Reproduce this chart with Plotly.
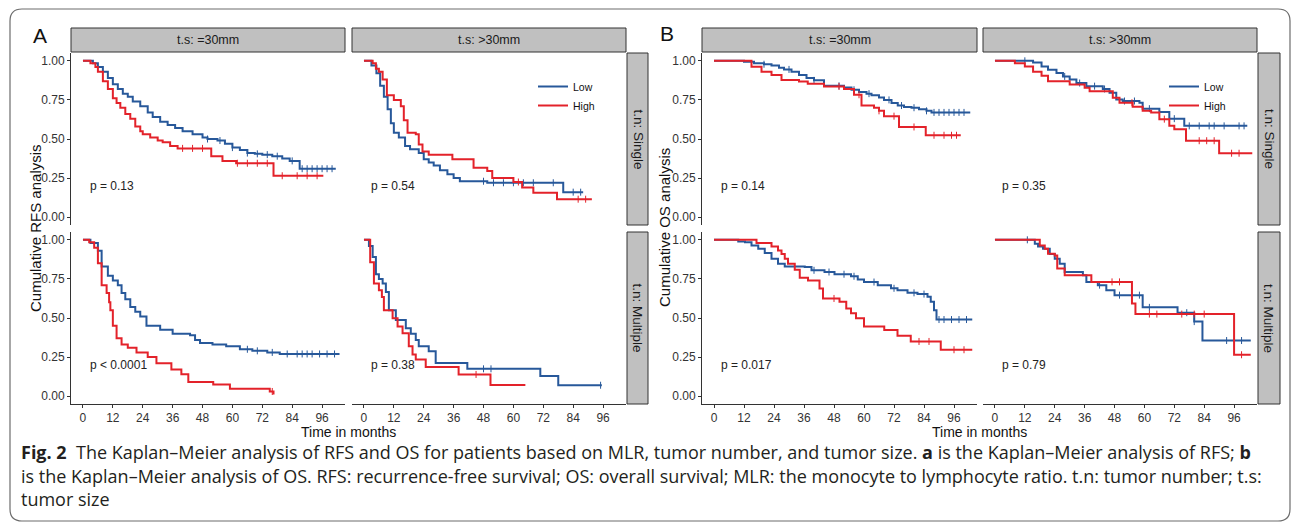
import plotly.graph_objects as go

W, H = 1295, 527

# ---------------- data (months, survival probability) ----------------
months_ticks = [0, 12, 24, 36, 48, 60, 72, 84, 96]
surv_ticks = [0.0, 0.25, 0.5, 0.75, 1.0]
surv_ticklabels = ["0.00", "0.25", "0.50", "0.75", "1.00"]
groups = ["Low", "High"]
size_strips = ["t.s: =30mm", "t.s: >30mm"]
number_strips = ["t.n: Single", "t.n: Multiple"]

# A: RFS, t.s <=30mm, single
rfs_s30_single_low_t = [0, 4, 6, 8, 10, 12, 14, 16, 18, 20, 23, 26, 28, 31, 34, 37, 40, 44, 48, 50, 54, 57, 60, 63, 66, 69, 72, 76, 80, 83, 87, 101.5]
rfs_s30_single_low_s = [1.0, 0.985, 0.96, 0.93, 0.89, 0.85, 0.82, 0.79, 0.77, 0.74, 0.71, 0.67, 0.64, 0.61, 0.59, 0.57, 0.55, 0.53, 0.51, 0.50, 0.49, 0.47, 0.445, 0.43, 0.41, 0.405, 0.40, 0.39, 0.375, 0.36, 0.31, 0.31]
rfs_s30_single_low_cens = [50, 55, 60, 66, 70, 74, 78, 84, 88, 90, 92, 94, 96, 98, 100]
rfs_s30_single_high_t = [0, 3, 5, 6, 8, 10, 12, 13.5, 15, 17, 19, 21, 23, 24, 27, 30, 32, 35, 38, 51.5, 56, 61.5, 76.5, 96.5]
rfs_s30_single_high_s = [1.0, 0.985, 0.96, 0.93, 0.87, 0.82, 0.76, 0.73, 0.70, 0.66, 0.63, 0.58, 0.55, 0.53, 0.51, 0.49, 0.48, 0.455, 0.44, 0.39, 0.36, 0.345, 0.265, 0.265]
rfs_s30_single_high_cens = [40, 44, 48, 62, 66, 70, 74, 80, 86, 90, 94]

# A: RFS, t.s >30mm, single
rfs_b30_single_low_t = [0, 3, 5, 6.5, 8, 9.5, 10.8, 12, 14, 16.5, 18.5, 22, 24, 26, 28, 30.5, 33.5, 36, 38.5, 49.5, 80, 88]
rfs_b30_single_low_s = [1.0, 0.97, 0.92, 0.84, 0.77, 0.69, 0.60, 0.54, 0.51, 0.455, 0.435, 0.41, 0.37, 0.35, 0.33, 0.30, 0.275, 0.25, 0.23, 0.22, 0.16, 0.16]
rfs_b30_single_low_cens = [48, 52, 56, 60, 64, 68, 76, 84, 87]
rfs_b30_single_high_t = [0, 3.5, 4.8, 6, 7.5, 9.2, 12, 14.8, 16, 17.5, 20.8, 22, 23.5, 26, 35.5, 44, 49.5, 51.5, 60, 63.5, 68, 77.5, 91.5]
rfs_b30_single_high_s = [1.0, 0.985, 0.95, 0.93, 0.88, 0.78, 0.75, 0.71, 0.62, 0.54, 0.53, 0.465, 0.42, 0.40, 0.37, 0.316, 0.295, 0.25, 0.225, 0.19, 0.157, 0.115, 0.115]
rfs_b30_single_high_cens = [62, 86, 89]

# A: RFS, t.s <=30mm, multiple
rfs_s30_multi_low_t = [0, 3, 6, 7.5, 10, 12, 14, 15.5, 17, 19, 21, 23, 25.5, 31, 36, 43, 45, 47, 52, 57.5, 63, 68, 74, 79, 103]
rfs_s30_multi_low_s = [1.0, 0.98, 0.93, 0.83, 0.77, 0.74, 0.71, 0.66, 0.62, 0.57, 0.54, 0.51, 0.45, 0.425, 0.40, 0.39, 0.36, 0.34, 0.33, 0.32, 0.30, 0.29, 0.28, 0.27, 0.27]
rfs_s30_multi_low_cens = [66, 70, 76, 82, 86, 88, 90, 92, 95, 98, 101]
rfs_s30_multi_high_t = [0, 2.5, 4.5, 6, 7.5, 9.5, 10.5, 11, 12, 13.5, 15.5, 18, 21.5, 26, 29.5, 35.5, 39.5, 42.3, 52.3, 59, 75, 76.5]
rfs_s30_multi_high_s = [1.0, 0.985, 0.95, 0.85, 0.71, 0.66, 0.60, 0.55, 0.45, 0.37, 0.33, 0.31, 0.28, 0.25, 0.21, 0.17, 0.14, 0.09, 0.074, 0.047, 0.03, 0.01]
rfs_s30_multi_high_cens = [76]

# A: RFS, t.s >30mm, multiple
rfs_b30_multi_low_t = [0, 2, 3.5, 4.8, 6, 7.5, 8.8, 10, 12.8, 16.8, 18.8, 20.8, 22, 26, 28.8, 41.5, 70.8, 78, 95.5]
rfs_b30_multi_low_s = [1.0, 0.96, 0.89, 0.78, 0.75, 0.72, 0.667, 0.55, 0.487, 0.435, 0.40, 0.36, 0.32, 0.287, 0.213, 0.175, 0.129, 0.07, 0.07]
rfs_b30_multi_low_cens = [48, 51, 95]
rfs_b30_multi_high_t = [0, 2.5, 4, 6, 7.2, 8, 11.5, 13.5, 15.5, 18, 19.5, 20.8, 24.8, 38, 50.8, 64.8]
rfs_b30_multi_high_s = [1.0, 0.857, 0.72, 0.677, 0.635, 0.55, 0.498, 0.445, 0.403, 0.32, 0.266, 0.234, 0.186, 0.139, 0.072, 0.072]
rfs_b30_multi_high_cens = [45]

# B: OS, t.s <=30mm, single
os_s30_single_low_t = [0, 12, 16, 20, 23, 26, 28, 31, 34, 37, 40, 44, 52, 55, 58, 61, 63, 66, 68, 71, 73.5, 76, 79, 82, 85, 87, 102.5]
os_s30_single_low_s = [1.0, 0.994, 0.985, 0.978, 0.97, 0.955, 0.945, 0.93, 0.91, 0.89, 0.875, 0.84, 0.83, 0.815, 0.80, 0.79, 0.78, 0.765, 0.75, 0.73, 0.714, 0.705, 0.70, 0.69, 0.68, 0.67, 0.67]
os_s30_single_low_cens = [20, 30, 40, 50, 56, 62, 70, 75, 80, 85, 88, 90, 92, 94, 96, 98, 100]
os_s30_single_high_t = [0, 15, 19, 23, 27, 34, 37.5, 44, 52, 56, 59, 64, 66, 68, 74, 84.7, 98.7]
os_s30_single_high_s = [1.0, 0.962, 0.93, 0.91, 0.878, 0.867, 0.853, 0.836, 0.819, 0.783, 0.714, 0.70, 0.68, 0.646, 0.577, 0.524, 0.524]
os_s30_single_high_cens = [50, 58, 66, 72, 80, 88, 92, 95, 97]

# B: OS, t.s >30mm, single
os_b30_single_low_t = [0, 15.3, 18.7, 21.3, 24.7, 27.3, 30, 32.7, 36.7, 43.3, 46, 48.7, 51.3, 58, 59.3, 66, 70, 76, 101.3]
os_b30_single_low_s = [1.0, 0.99, 0.964, 0.943, 0.922, 0.90, 0.88, 0.858, 0.838, 0.82, 0.795, 0.753, 0.743, 0.732, 0.694, 0.673, 0.63, 0.584, 0.584]
os_b30_single_low_cens = [12, 28, 34, 40, 44, 52, 56, 62, 72, 78, 82, 86, 88, 92, 98, 100]
os_b30_single_high_t = [0, 8, 12, 15.3, 18.7, 21.3, 30, 36, 38, 47.3, 50, 55.3, 59.3, 62.7, 66, 70, 72, 76.7, 90, 103.3]
os_b30_single_high_s = [1.0, 0.985, 0.964, 0.93, 0.905, 0.87, 0.848, 0.827, 0.806, 0.764, 0.732, 0.707, 0.68, 0.669, 0.627, 0.584, 0.563, 0.489, 0.409, 0.409]
os_b30_single_high_cens = [55, 68, 82, 85, 88, 95, 98]

# B: OS, t.s <=30mm, multiple
os_s30_multi_low_t = [0, 9.7, 12.4, 15, 17.7, 20.3, 23, 25.6, 28.3, 36.3, 39, 44.2, 48.2, 54.8, 57.5, 60, 65.5, 70.8, 73.4, 77.4, 81.4, 85.4, 86.7, 88, 89, 103.3]
os_s30_multi_low_s = [1.0, 0.99, 0.985, 0.964, 0.943, 0.915, 0.879, 0.847, 0.83, 0.826, 0.805, 0.794, 0.78, 0.767, 0.746, 0.73, 0.71, 0.69, 0.678, 0.661, 0.653, 0.636, 0.604, 0.55, 0.49, 0.49]
os_s30_multi_low_cens = [40, 46, 52, 56, 64, 72, 80, 84, 90, 92, 95, 98, 101]
os_s30_multi_high_t = [0, 17, 23, 25.6, 27, 28.3, 29.6, 32.3, 34.3, 37.6, 42.2, 43.6, 50.2, 52.9, 54.8, 56.8, 60, 68.1, 73.4, 78.7, 90.7, 103.3]
os_s30_multi_high_s = [1.0, 0.979, 0.958, 0.932, 0.91, 0.879, 0.847, 0.809, 0.758, 0.74, 0.689, 0.625, 0.604, 0.561, 0.53, 0.498, 0.445, 0.424, 0.386, 0.35, 0.297, 0.297]
os_s30_multi_high_cens = [48, 82, 86, 96, 100]

# B: OS, t.s >30mm, multiple
os_b30_multi_low_t = [0, 16, 17.3, 19.3, 22, 24, 26, 28, 35.3, 36.7, 41.3, 44.7, 48, 59.3, 73.3, 80, 83.3, 102.7]
os_b30_multi_low_s = [1.0, 0.975, 0.958, 0.943, 0.91, 0.879, 0.847, 0.794, 0.773, 0.73, 0.71, 0.678, 0.646, 0.568, 0.534, 0.477, 0.356, 0.356]
os_b30_multi_low_cens = [13, 42, 50, 58, 62, 77, 80, 93, 99]
os_b30_multi_high_t = [0, 18, 20, 21.3, 24, 25, 28, 38.7, 55, 56.4, 96, 102.7]
os_b30_multi_high_s = [1.0, 0.964, 0.943, 0.911, 0.90, 0.816, 0.773, 0.731, 0.593, 0.525, 0.265, 0.265]
os_b30_multi_high_cens = [47, 50, 62, 65, 75, 80, 84, 99]

p_rfs = ["p = 0.13", "p = 0.54", "p < 0.0001", "p = 0.38"]
p_os = ["p = 0.14", "p = 0.35", "p = 0.017", "p = 0.79"]

caption_lines = [
    "<b>Fig. 2</b>\u00a0\u00a0The Kaplan\u2013Meier analysis of RFS and OS for patients based on MLR, tumor number, and tumor size. <b>a</b> is the Kaplan\u2013Meier analysis of RFS; <b>b</b>",
    "is the Kaplan\u2013Meier analysis of OS. RFS: recurrence-free survival; OS: overall survival; MLR: the monocyte to lymphocyte ratio. t.n: tumor number; t.s:",
    "tumor size",
]

# ---------------- styling / layout ----------------
BLUE = "#27589A"
RED = "#E3222A"
AX = "#333333"
SANS = "Liberation Sans, Arial, sans-serif"
TICKFONT = dict(family=SANS, size=12, color="#333333")
LABFONT = dict(family=SANS, size=14, color="#111111")


def px(x):
    return x / W


def py(y):
    return 1 - y / H


def step_at(ts, ss, t):
    v = ss[0]
    for ti, si in zip(ts, ss):
        if ti <= t:
            v = si
    return v


XL_A = (71, 345)
XR_A = (352, 626)
XL_B = (702, 977)
XR_B = (983, 1257)
Y_TOP = (53, 225)
Y_BOT = (232, 404)

panels = [
    ((rfs_s30_single_low_t, rfs_s30_single_low_s, rfs_s30_single_low_cens),
     (rfs_s30_single_high_t, rfs_s30_single_high_s, rfs_s30_single_high_cens), p_rfs[0], XL_A, Y_TOP, True, False, "legend"),
    ((rfs_b30_single_low_t, rfs_b30_single_low_s, rfs_b30_single_low_cens),
     (rfs_b30_single_high_t, rfs_b30_single_high_s, rfs_b30_single_high_cens), p_rfs[1], XR_A, Y_TOP, False, False, "legend"),
    ((rfs_s30_multi_low_t, rfs_s30_multi_low_s, rfs_s30_multi_low_cens),
     (rfs_s30_multi_high_t, rfs_s30_multi_high_s, rfs_s30_multi_high_cens), p_rfs[2], XL_A, Y_BOT, True, True, "legend"),
    ((rfs_b30_multi_low_t, rfs_b30_multi_low_s, rfs_b30_multi_low_cens),
     (rfs_b30_multi_high_t, rfs_b30_multi_high_s, rfs_b30_multi_high_cens), p_rfs[3], XR_A, Y_BOT, False, True, "legend"),
    ((os_s30_single_low_t, os_s30_single_low_s, os_s30_single_low_cens),
     (os_s30_single_high_t, os_s30_single_high_s, os_s30_single_high_cens), p_os[0], XL_B, Y_TOP, True, False, "legend2"),
    ((os_b30_single_low_t, os_b30_single_low_s, os_b30_single_low_cens),
     (os_b30_single_high_t, os_b30_single_high_s, os_b30_single_high_cens), p_os[1], XR_B, Y_TOP, False, False, "legend2"),
    ((os_s30_multi_low_t, os_s30_multi_low_s, os_s30_multi_low_cens),
     (os_s30_multi_high_t, os_s30_multi_high_s, os_s30_multi_high_cens), p_os[2], XL_B, Y_BOT, True, True, "legend2"),
    ((os_b30_multi_low_t, os_b30_multi_low_s, os_b30_multi_low_cens),
     (os_b30_multi_high_t, os_b30_multi_high_s, os_b30_multi_high_cens), p_os[3], XR_B, Y_BOT, False, True, "legend2"),
]

fig = go.Figure()
layout = dict(
    width=W, height=H, margin=dict(l=0, r=0, t=0, b=0),
    paper_bgcolor="white", plot_bgcolor="rgba(0,0,0,0)",
    showlegend=True,
)
annotations = []
shapes = []

for i, (low, high, ptxt, xr, yr, is_left, is_bottom, leg) in enumerate(panels, start=1):
    xa = "x" if i == 1 else f"x{i}"
    ya = "y" if i == 1 else f"y{i}"
    show_leg = i in (2, 6)
    for (t, s, cens), name, col in ((low, groups[0], BLUE), (high, groups[1], RED)):
        fig.add_trace(go.Scatter(
            x=t, y=s, mode="lines", line=dict(color=col, width=2, shape="hv"),
            name=name, xaxis=xa, yaxis=ya, showlegend=show_leg, legend=leg, hoverinfo="skip"))
        fig.add_trace(go.Scatter(
            x=cens, y=[step_at(t, s, c) for c in cens], mode="markers",
            marker=dict(symbol="line-ns", size=5, line=dict(color=col, width=1)),
            xaxis=xa, yaxis=ya, showlegend=False, hoverinfo="skip"))
    layout["xaxis" if i == 1 else f"xaxis{i}"] = dict(
        domain=[px(xr[0]), px(xr[1])], range=[-4.8, 105.2], anchor=ya,
        tickvals=months_ticks, showgrid=False, zeroline=False,
        showline=is_bottom, linecolor=AX, linewidth=1,
        ticks="outside" if is_bottom else "", ticklen=3, tickcolor=AX,
        showticklabels=is_bottom, tickfont=TICKFONT)
    layout["yaxis" if i == 1 else f"yaxis{i}"] = dict(
        domain=[py(yr[1]), py(yr[0])], range=[-0.05, 1.05], anchor=xa,
        tickvals=surv_ticks, ticktext=surv_ticklabels, showgrid=False, zeroline=False,
        showline=is_left, linecolor=AX, linewidth=1,
        ticks="outside" if is_left else "", ticklen=3, tickcolor=AX,
        showticklabels=is_left, tickfont=TICKFONT)
    annotations.append(dict(
        x=2, y=0.2, xref=xa, yref=ya, text=ptxt, showarrow=False,
        xanchor="left", yanchor="middle", font=dict(family=SANS, size=12, color="#222222")))

STRIP_FILL = "#C0C0C0"
STRIP_LINE = "#333333"


def strip(x0, y0, x1, y1, text, angle=0, size=12.5):
    shapes.append(dict(type="rect", xref="paper", yref="paper",
                       x0=px(x0), x1=px(x1), y0=py(y1), y1=py(y0),
                       fillcolor=STRIP_FILL, line=dict(color=STRIP_LINE, width=1), layer="below"))
    annotations.append(dict(x=px((x0 + x1) / 2), y=py((y0 + y1) / 2), xref="paper", yref="paper",
                            text=text, showarrow=False, textangle=angle,
                            xanchor="center", yanchor="middle",
                            font=dict(family=SANS, size=size, color="#1a1a1a")))


for (xl, xr_), (rx0, rx1) in (((XL_A, XR_A), (627, 648)), ((XL_B, XR_B), (1258, 1280))):
    strip(xl[0], 28, xl[1], 52, size_strips[0])
    strip(xr_[0], 28, xr_[1], 52, size_strips[1])
    strip(rx0, Y_TOP[0], rx1, Y_TOP[1], number_strips[0], 90, 13.5)
    strip(rx0, Y_BOT[0], rx1, Y_BOT[1], number_strips[1], 90, 13.5)

# panel letters, axis titles
for txt, x, y in (("A", 40, 35), ("B", 667, 34)):
    annotations.append(dict(x=px(x), y=py(y), xref="paper", yref="paper", text=txt, showarrow=False,
                            xanchor="center", yanchor="middle",
                            font=dict(family=SANS, size=21, color="#111111")))
for txt, x in (("Cumulative RFS analysis", 35), ("Cumulative OS analysis", 664)):
    annotations.append(dict(x=px(x), y=py(228), xref="paper", yref="paper", text=txt, showarrow=False,
                            textangle=-90, xanchor="center", yanchor="middle",
                            font=dict(family=SANS, size=15, color="#111111")))
for x in ((XL_A[0] + XR_A[1]) / 2, (XL_B[0] + XR_B[1]) / 2):
    annotations.append(dict(x=px(x), y=py(432), xref="paper", yref="paper", text="Time in months",
                            showarrow=False, xanchor="center", yanchor="middle", font=LABFONT))

# caption
for line, y in zip(caption_lines, (452, 476, 499)):
    annotations.append(dict(x=px(19), y=py(y), xref="paper", yref="paper", text=line, showarrow=False,
                            xanchor="left", yanchor="middle", align="left",
                            font=dict(family="Open Sans, Noto Sans, sans-serif", size=18, color="#231F20")))

# rounded outer frame
x0, y0, x1, y1, r = px(10), py(9), px(1290), py(521), 12
rx, ry = r / W, r / H
path = (f"M {x0 + rx},{y0} L {x1 - rx},{y0} Q {x1},{y0} {x1},{y0 - ry} "
        f"L {x1},{y1 + ry} Q {x1},{y1} {x1 - rx},{y1} L {x0 + rx},{y1} "
        f"Q {x0},{y1} {x0},{y1 + ry} L {x0},{y0 - ry} Q {x0},{y0} {x0 + rx},{y0} Z")
shapes.append(dict(type="path", xref="paper", yref="paper", path=path,
                   line=dict(color="#6d6d6d", width=1.2), fillcolor="rgba(0,0,0,0)"))

legfont = dict(family=SANS, size=10.5, color="#111111")
layout["legend"] = dict(x=px(533), y=py(72), xanchor="left", yanchor="top", bgcolor="rgba(0,0,0,0)",
                        font=legfont, itemwidth=30, tracegroupgap=0)
layout["legend2"] = dict(x=px(1164), y=py(72), xanchor="left", yanchor="top", bgcolor="rgba(0,0,0,0)",
                         font=legfont, itemwidth=30, tracegroupgap=0)
layout["annotations"] = annotations
layout["shapes"] = shapes
fig.update_layout(**layout)
fig.write_html("out.html")
